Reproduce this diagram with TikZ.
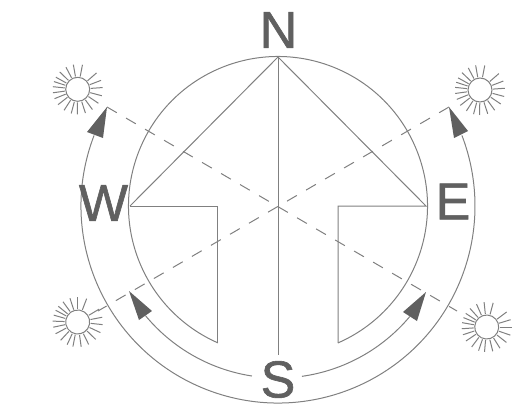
\documentclass[tikz,border=0pt]{standalone}
\usepackage{fontspec}
\setmainfont{Liberation Sans}
\newfontfamily\labelfont[FakeBold=1.2]{Liberation Sans}
\definecolor{linegray}{HTML}{808080}
\definecolor{textgray}{HTML}{606060}
\tikzset{
  thinline/.style={linegray, line width=0.75pt},
  sightline/.style={thinline, dash pattern=on 8.5pt off 8pt},
  headfill/.style={fill=textgray, draw=none},
  compasslabel/.style={text=textgray, font=\labelfont\fontsize{39}{39}\selectfont, inner sep=0pt, anchor=center},
}
\newcommand{\sunmark}[3]{%
  \begin{scope}[shift={(#1,#2)}, rotate=#3]
    \draw[thinline] (0,0) circle (12);
    \foreach \a in {4, 21, 41, 79, 100, 118, 136, 151, 162, 174, 188, 202, 218, 237, 255, 269, 288, 306, 326, 345} {
      \draw[thinline] (\a:13) -- (\a:25);
    }
  \end{scope}
}
\begin{document}
\begin{tikzpicture}[x=0.75pt, y=0.75pt]
  \useasboundingbox (-278,-209) rectangle (239,206);
  % inner circle, open at the bottom
  \draw[thinline] (-66.3:149.5) arc[start angle=-66.3, end angle=246.3, radius=149.5];
  % arrow outline
  \draw[thinline] (-148,0) -- (0,149) -- (148,0) -- (60,0) -- (60,-137);
  \draw[thinline] (-148,0) -- (-60,0) -- (-60,-137);
  \draw[thinline] (0,149) -- (0,-149);
  % sight lines
  \draw[sightline] (-171,99) -- (179,-105);
  \draw[sightline] (171,99) -- (-180,-105);
  % sweep arcs
  \draw[thinline] (159:197) arc[start angle=159, end angle=381, radius=197];
  \draw[thinline] (219.6:172) arc[start angle=219.6, end angle=261.3, radius=172];
  \draw[thinline] (278:172) arc[start angle=278, end angle=320, radius=172];
  % heads
  \fill[headfill] (-171,99) -- (-191,74) -- (-175,68) -- cycle;
  \fill[headfill] (171,99) -- (176,68) -- (190,75) -- cycle;
  \fill[headfill] (-149,-85) -- (-139,-114) -- (-126,-105) -- cycle;
  \fill[headfill] (148,-86) -- (125,-106) -- (139,-115) -- cycle;
  % suns
  \sunmark{-200.3}{116.7}{0}
  \sunmark{202}{116}{0}
  \sunmark{-200.3}{-116}{-10}
  \sunmark{208.7}{-121}{-4}
  % labels
  \node[compasslabel] (north) at (0.5,176) {N};
  \node[compasslabel] (south) at (0,-173.5) {S};
  \node[compasslabel] (west) at (-174.5,3) {W};
  \node[compasslabel] (east) at (175,4.5) {E};
\end{tikzpicture}
\end{document}
